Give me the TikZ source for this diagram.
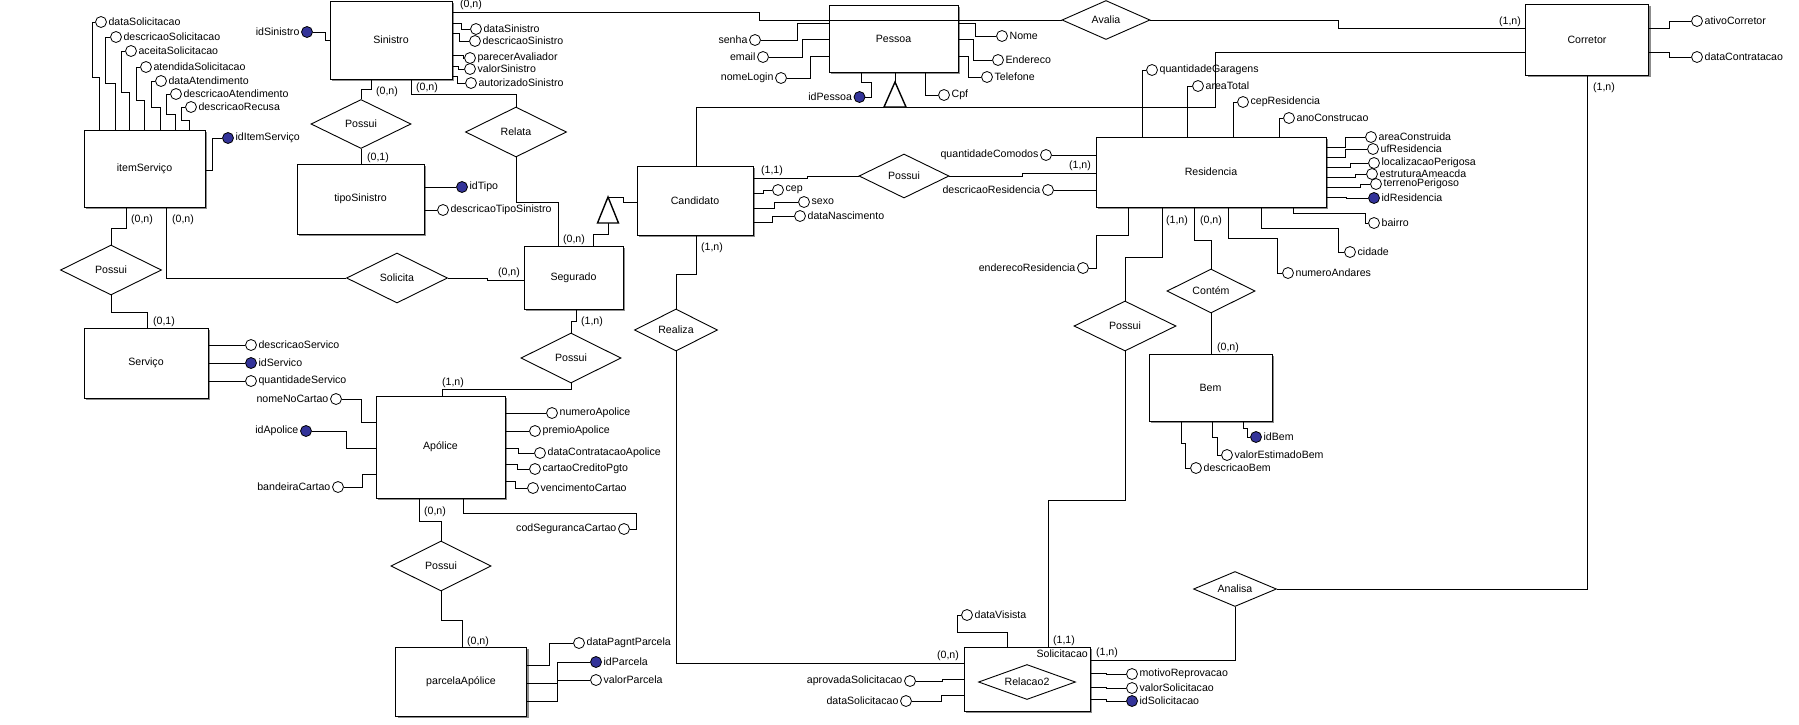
\documentclass[tikz,border=0pt]{standalone}
\usepackage{fontspec}
\setmainfont{Liberation Sans}
\usetikzlibrary{shapes.geometric, shadows}
\definecolor{azulchave}{RGB}{51,51,153}
\tikzstyle{entidade} = [rectangle, draw, line width=0.9pt, fill=white, inner sep=0pt, drop shadow={shadow xshift=2pt, shadow yshift=-2pt, fill=black!45, opacity=1}]
\tikzstyle{relacao} = [diamond, draw, line width=0.9pt, fill=white, inner sep=0pt, aspect=2]
\tikzstyle{atributo} = [circle, draw, line width=0.8pt, fill=white, minimum size=11pt, inner sep=0pt]
\tikzstyle{atributochave} = [atributo, fill=azulchave]
\tikzstyle{card} = [inner sep=0pt]
\tikzstyle{linha} = [draw, line width=0.9pt]
\tikzstyle{heranca} = [draw, fill=white, line width=1.4pt]

\begin{document}
\begin{tikzpicture}[x=1pt, y=-1pt, font=\fontsize{10.6}{12}\selectfont, every label/.style={inner sep=1.5pt}]
    \fill[white] (0,0) rectangle (1799,724);
    \useasboundingbox (0,0) rectangle (1799,724);

    % entidades
    \node[entidade, minimum width=122pt, minimum height=78pt] (sinistro) at (391,40) {Sinistro};
    \node[entidade, minimum width=127pt, minimum height=70pt] (tipoSinistro) at (360.5,199) {tipoSinistro};
    \node[entidade, minimum width=121pt, minimum height=77pt] (itemServico) at (144.5,168.5) {itemServiço};
    \node[entidade, minimum width=124pt, minimum height=70pt] (servico) at (146,363) {Serviço};
    \node[entidade, minimum width=99pt, minimum height=63pt] (segurado) at (573.5,277.5) {Segurado};
    \node[entidade, minimum width=116pt, minimum height=69pt] (candidato) at (695,200.5) {Candidato};
    \node[entidade, minimum width=129pt, minimum height=102pt] (apolice) at (440.5,447) {Apólice};
    \node[entidade, minimum width=131pt, minimum height=69pt] (parcela) at (461,681.5) {parcelaApólice};
    \node[entidade, minimum width=129pt, minimum height=67pt] (pessoa) at (893.5,38.5) {Pessoa};
    \node[entidade, minimum width=123pt, minimum height=71pt] (corretor) at (1587,39.5) {Corretor};
    \node[entidade, minimum width=230pt, minimum height=70pt] (residencia) at (1211,172) {Residencia};
    \node[entidade, minimum width=123pt, minimum height=67pt] (bem) at (1210.5,387.5) {Bem};
    \node[entidade, minimum width=126pt, minimum height=64pt] (solicitacao) at (1027,679) {};
    \node[anchor=north east, inner sep=0pt] (solicitacaoNome) at (1088,650) {Solicitacao};

    % relacionamentos
    \node[relacao, minimum width=100pt, minimum height=49pt] (possuiSin) at (361,124) {Possui};
    \node[relacao, minimum width=101pt, minimum height=50pt] (relata) at (516,132) {Relata};
    \node[relacao, minimum width=101pt, minimum height=50pt] (possuiServ) at (111,270) {Possui};
    \node[relacao, minimum width=101pt, minimum height=50pt] (solicita) at (397,278) {Solicita};
    \node[relacao, minimum width=100pt, minimum height=50pt] (possuiApol) at (571,358) {Possui};
    \node[relacao, minimum width=100pt, minimum height=50pt] (possuiParc) at (441,566) {Possui};
    \node[relacao, minimum width=88pt, minimum height=39pt] (avalia) at (1106,20) {Avalia};
    \node[relacao, minimum width=90pt, minimum height=44pt] (possuiRes) at (904,176) {Possui};
    \node[relacao, minimum width=83pt, minimum height=42pt] (realiza) at (676,330) {Realiza};
    \node[relacao, minimum width=88pt, minimum height=44pt] (contem) at (1211,291) {Contém};
    \node[relacao, minimum width=102pt, minimum height=50pt] (possuiSolic) at (1125,326) {Possui};
    \node[relacao, minimum width=83pt, minimum height=35pt] (analisa) at (1235,589) {Analisa};
    \node[relacao, minimum width=97pt, minimum height=35pt] (relacao2) at (1027,682) {Relacao2};

    % atributos de Sinistro
    \node[atributochave, label=left:idSinistro] (idSinistro) at (307,32) {};
    \node[atributo, label=right:dataSinistro] (dataSinistro) at (476,29) {};
    \node[atributo, label=right:descricaoSinistro] (descricaoSinistro) at (475,41) {};
    \node[atributo, label=right:parecerAvaliador] (parecerAvaliador) at (470,58) {};
    \node[atributo, label=right:valorSinistro] (valorSinistro) at (470,69) {};
    \node[atributo, label=right:autorizadoSinistro] (autorizadoSinistro) at (471,83) {};
    \draw[linha] (idSinistro) -| (325,40) -- (sinistro.west |- 0,40);
    \draw[linha] (sinistro.east |- 0,23) -- ++(9,0) |- (dataSinistro);
    \draw[linha] (sinistro.east |- 0,33) -- ++(7,0) |- (descricaoSinistro);
    \draw[linha] (sinistro.east |- 0,55) -- ++(11,0) |- (parecerAvaliador);
    \draw[linha] (sinistro.east |- 0,66) -- ++(6,0) |- (valorSinistro);
    \draw[linha] (sinistro.east |- 0,76) -- ++(5,0) |- (autorizadoSinistro);

    % atributos de tipoSinistro
    \node[atributochave, label=right:idTipo] (idTipo) at (462,187) {};
    \node[atributo, label=right:descricaoTipoSinistro] (descricaoTipoSinistro) at (443,210) {};
    \draw[linha] (tipoSinistro.east |- idTipo) -- (idTipo);
    \draw[linha] (tipoSinistro.east |- descricaoTipoSinistro) -- (descricaoTipoSinistro);

    % atributos de itemServiço
    \node[atributo, label=right:dataSolicitacao] (dataSolicitacao) at (101,22) {};
    \node[atributo, label=right:descricaoSolicitacao] (descricaoSolicitacao) at (116,37) {};
    \node[atributo, label=right:aceitaSolicitacao] (aceitaSolicitacao) at (131,51) {};
    \node[atributo, label=right:atendidaSolicitacao] (atendidaSolicitacao) at (146,67) {};
    \node[atributo, label=right:dataAtendimento] (dataAtendimento) at (161,81) {};
    \node[atributo, label=right:descricaoAtendimento] (descricaoAtendimento) at (176,94) {};
    \node[atributo, label=right:descricaoRecusa] (descricaoRecusa) at (191,107) {};
    \node[atributochave, label=right:idItemServiço] (idItemServico) at (228,138) {};
    \draw[linha] (itemServico.north -| 99.5,0) |- (92,77) |- (dataSolicitacao);
    \draw[linha] (itemServico.north -| 115,0) |- (105,83) |- (descricaoSolicitacao);
    \draw[linha] (itemServico.north -| 129,0) |- (121,92) |- (aceitaSolicitacao);
    \draw[linha] (itemServico.north -| 144,0) |- (136,100) |- (atendidaSolicitacao);
    \draw[linha] (itemServico.north -| 160,0) |- (151,107) |- (dataAtendimento);
    \draw[linha] (itemServico.north -| 175,0) |- (166,114) |- (descricaoAtendimento);
    \draw[linha] (itemServico.north -| 189,0) |- (181,120) |- (descricaoRecusa);
    \draw[linha] (itemServico.east |- 0,170) -- ++(7,0) |- (idItemServico);

    % atributos de Serviço
    \node[atributo, label=right:descricaoServico] (descricaoServico) at (251,345) {};
    \node[atributochave, label=right:idServico] (idServico) at (251,363) {};
    \node[atributo, label=right:quantidadeServico] (quantidadeServico) at (251,381) {};
    \draw[linha] (servico.east |- descricaoServico) -- (descricaoServico);
    \draw[linha] (servico.east |- idServico) -- (idServico);
    \draw[linha] (servico.east |- quantidadeServico) -- (quantidadeServico);

    % atributos de Pessoa
    \node[atributo, label=left:senha] (senha) at (755,40) {};
    \node[atributo, label=left:email] (email) at (763,57) {};
    \node[atributo, label=left:nomeLogin] (nomeLogin) at (781,78) {};
    \node[atributo, label=right:Nome] (nome) at (1002,36) {};
    \node[atributo, label=right:Endereco] (endereco) at (998,60) {};
    \node[atributo, label=right:Telefone] (telefone) at (987,77) {};
    \node[atributo, label=right:Cpf] (cpf) at (944,95) {};
    \node[atributochave, label=left:idPessoa] (idPessoa) at (859.5,97) {};
    \draw[linha] (pessoa.west |- 0,23) -- ++(-31,0) |- (senha);
    \draw[linha] (pessoa.west |- 0,39) -- ++(-26,0) |- (email);
    \draw[linha] (pessoa.west |- 0,56) -- ++(-18.5,0) |- (nomeLogin);
    \draw[linha] (pessoa.east |- 0,23) -- ++(17,0) |- (nome);
    \draw[linha] (pessoa.east |- 0,39) -- ++(15,0) |- (endereco);
    \draw[linha] (pessoa.east |- 0,56) -- ++(10,0) |- (telefone);
    \draw[linha] (pessoa.south -| 925,0) |- (cpf);
    \draw[linha] (pessoa.south -| 861,0) -- ++(0,10) -| (871,97) -- (idPessoa);

    % atributos de Corretor
    \node[atributo, label=right:ativoCorretor] (ativoCorretor) at (1697,21) {};
    \node[atributo, label=right:dataContratacao] (dataContratacao) at (1697,57) {};
    \draw[linha] (corretor.east |- 0,28) -- ++(20,0) |- (ativoCorretor);
    \draw[linha] (corretor.east |- 0,52) -- ++(20,0) |- (dataContratacao);

    % atributos de Candidato
    \node[atributo, label=right:cep] (cep) at (778,190) {};
    \node[atributo, label=right:sexo] (sexo) at (804,202) {};
    \node[atributo, label=right:dataNascimento] (dataNascimento) at (800,216) {};
    \draw[linha] (candidato.east |- 0,193) -- ++(10,0) |- (cep);
    \draw[linha] (candidato.east |- 0,208) -- ++(21,0) |- (sexo);
    \draw[linha] (candidato.east |- 0,222) -- ++(19,0) |- (dataNascimento);

    % atributos de Apólice
    \node[atributo, label=left:nomeNoCartao] (nomeNoCartao) at (336,399) {};
    \node[atributochave, label=left:idApolice] (idApolice) at (306,431) {};
    \node[atributo, label=left:bandeiraCartao] (bandeiraCartao) at (338,487) {};
    \node[atributo, label=right:numeroApolice] (numeroApolice) at (552,413) {};
    \node[atributo, label=right:premioApolice] (premioApolice) at (535,431) {};
    \node[atributo, label=right:dataContratacaoApolice] (dataContratacaoApolice) at (540,453) {};
    \node[atributo, label=right:cartaoCreditoPgto] (cartaoCreditoPgto) at (535,469) {};
    \node[atributo, label=right:vencimentoCartao] (vencimentoCartao) at (533,488) {};
    \node[atributo, label=left:codSegurancaCartao] (codSegurancaCartao) at (624,529) {};
    \draw[linha] (apolice.west |- 0,422) -- ++(-14,0) |- (nomeNoCartao);
    \draw[linha] (apolice.west |- 0,448) -- ++(-29,0) |- (idApolice);
    \draw[linha] (apolice.west |- 0,474) -- ++(-13,0) |- (bandeiraCartao);
    \draw[linha] (apolice.east |- numeroApolice) -- (numeroApolice);
    \draw[linha] (apolice.east |- premioApolice) -- (premioApolice);
    \draw[linha] (apolice.east |- 0,448) -- ++(13,0) |- (dataContratacaoApolice);
    \draw[linha] (apolice.east |- 0,464) -- ++(12,0) |- (cartaoCreditoPgto);
    \draw[linha] (apolice.east |- 0,481) -- ++(10,0) |- (vencimentoCartao);
    \draw[linha] (apolice.south -| 463,0) -- ++(0,15) -| (636,529) -- (codSegurancaCartao);

    % atributos de parcelaApólice
    \node[atributo, label=right:dataPagntParcela] (dataPagntParcela) at (579,643) {};
    \node[atributochave, label=right:idParcela] (idParcela) at (596,662) {};
    \node[atributo, label=right:valorParcela] (valorParcela) at (596,680) {};
    \draw[linha] (parcela.east |- 0,665) -- ++(22,0) |- (dataPagntParcela);
    \draw[linha] (parcela.east |- 0,683) -- ++(30,0) |- (idParcela);
    \draw[linha] (parcela.east |- 0,701) -- ++(30,0) |- (valorParcela);

    % atributos de Residencia
    \node[atributo, label=right:quantidadeGaragens] (quantidadeGaragens) at (1152,70) {};
    \node[atributo, label=right:areaTotal] (areaTotal) at (1198,86) {};
    \node[atributo, label=right:cepResidencia] (cepResidencia) at (1243,102) {};
    \node[atributo, label=right:anoConstrucao] (anoConstrucao) at (1289,118) {};
    \node[atributo, label=right:areaConstruida] (areaConstruida) at (1371,137) {};
    \node[atributo, label=right:ufResidencia] (ufResidencia) at (1373,149) {};
    \node[atributo, label=right:localizacaoPerigosa] (localizacaoPerigosa) at (1374,163) {};
    \node[atributo, label=right:estruturaAmeacda] (estruturaAmeacda) at (1372,174) {};
    \node[atributo, label=right:terrenoPerigoso] (terrenoPerigoso) at (1376,184) {};
    \node[atributochave, label=right:idResidencia] (idResidencia) at (1374,198) {};
    \node[atributo, label=right:bairro] (bairro) at (1374,223) {};
    \node[atributo, label=right:cidade] (cidade) at (1350,252) {};
    \node[atributo, label=right:numeroAndares] (numeroAndares) at (1288,273) {};
    \node[atributo, label=left:enderecoResidencia] (enderecoResidencia) at (1083,268) {};
    \node[atributo, label=left:quantidadeComodos] (quantidadeComodos) at (1046,155) {};
    \node[atributo, label=left:descricaoResidencia] (descricaoResidencia) at (1048,190) {};
    \draw[linha] (residencia.north -| 1142,0) |- (quantidadeGaragens);
    \draw[linha] (residencia.north -| 1187,0) |- (areaTotal);
    \draw[linha] (residencia.north -| 1233,0) |- (cepResidencia);
    \draw[linha] (residencia.north -| 1279,0) |- (anoConstrucao);
    \draw[linha] (residencia.east |- 0,147) -- ++(19,0) |- (areaConstruida);
    \draw[linha] (residencia.east |- 0,157) -- ++(19,0) |- (ufResidencia);
    \draw[linha] (residencia.east |- 0,167) -- ++(24,0) |- (localizacaoPerigosa);
    \draw[linha] (residencia.east |- 0,177) -- ++(29,0) |- (estruturaAmeacda);
    \draw[linha] (residencia.east |- 0,187) -- ++(34,0) |- (terrenoPerigoso);
    \draw[linha] (residencia.east |- 0,197) -- ++(20,0) |- (idResidencia);
    \draw[linha] (residencia.south -| 1293,0) -- ++(0,6) -| (1365,223) -- (bairro);
    \draw[linha] (residencia.south -| 1261,0) -- ++(0,21) -| (1338,252) -- (cidade);
    \draw[linha] (residencia.south -| 1228,0) -- ++(0,31) -| (1277,273) -- (numeroAndares);
    \draw[linha] (residencia.south -| 1128,0) -- ++(0,28) -| (1096,268) -- (enderecoResidencia);
    \draw[linha] (residencia.west |- quantidadeComodos) -- (quantidadeComodos);
    \draw[linha] (residencia.west |- descricaoResidencia) -- (descricaoResidencia);

    % atributos de Bem
    \node[atributochave, label=right:idBem] (idBem) at (1256,437) {};
    \node[atributo, label=right:valorEstimadoBem] (valorEstimadoBem) at (1227,455) {};
    \node[atributo, label=right:descricaoBem] (descricaoBem) at (1196,468) {};
    \draw[linha] (bem.south -| 1243,0) -- ++(0,7) -| (1247,437) -- (idBem);
    \draw[linha] (bem.south -| 1212,0) -- ++(0,16) -| (1217,455) -- (valorEstimadoBem);
    \draw[linha] (bem.south -| 1181,0) -- ++(0,22) -| (1185,468) -- (descricaoBem);

    % atributos de Solicitacao
    \node[atributo, label=right:dataVisista] (dataVisista) at (967,615) {};
    \node[atributo, label=left:aprovadaSolicitacao] (aprovadaSolicitacao) at (910,681) {};
    \node[atributo, label=left:dataSolicitacao] (dataSolicitacaoSol) at (906,701) {};
    \node[atributo, label=right:motivoReprovacao] (motivoReprovacao) at (1132,674) {};
    \node[atributo, label=right:valorSolicitacao] (valorSolicitacao) at (1132,688) {};
    \node[atributochave, label=right:idSolicitacao] (idSolicitacao) at (1132,701) {};
    \draw[linha] (solicitacao.north -| 1007,0) -- ++(0,-14) -| (957.5,615) -- (dataVisista);
    \draw[linha] (solicitacao.west |- 0,679) -- ++(-21,0) |- (aprovadaSolicitacao);
    \draw[linha] (solicitacao.west |- 0,695) -- ++(-22,0) |- (dataSolicitacaoSol);
    \draw[linha] (solicitacao.east |- 0,673) -- ++(16,0) |- (motivoReprovacao);
    \draw[linha] (solicitacao.east |- 0,687) -- ++(16,0) |- (valorSolicitacao);
    \draw[linha] (solicitacao.east |- 0,699) -- ++(16,0) |- (idSolicitacao);

    % ligacoes
    \draw[linha] (sinistro.east |- 0,12) -| (759,20) -- (avalia);
    \draw[linha] (avalia) -| (1338,28) -- (corretor.west |- 0,28);
    \draw[linha] (sinistro.south -| 371,0) -- ++(0,10) -| (possuiSin.north);
    \draw[linha] (possuiSin.south) -- (tipoSinistro.north -| possuiSin.south);
    \draw[linha] (sinistro.south -| 411,0) -- ++(0,15) -| (relata.north);
    \draw[linha] (relata.south) -- ++(0,45) -| (segurado.north -| 558,0);
    \draw[linha] (itemServico.south -| 126,0) -- ++(0,21) -| (possuiServ.north);
    \draw[linha] (possuiServ.south) -- ++(0,17) -| (servico.north -| 147,0);
    \draw[linha] (itemServico.south -| 166,0) |- (solicita);
    \draw[linha] (solicita) -| (487,280) -- (segurado.west |- 0,280);
    \draw[linha] (segurado.south -| 576,0) -- ++(0,12) -| (possuiApol.north);
    \draw[linha] (possuiApol.south) -- ++(0,6) -| (apolice.north -| 442,0);
    \draw[linha] (apolice.south -| 419,0) -- ++(0,23) -| (possuiParc.north);
    \draw[linha] (possuiParc.south) -- ++(0,29) -| (parcela.north -| 462.5,0);
    \draw[linha] (candidato.east |- 0,178) -- ++(54,0) |- (possuiRes);
    \draw[linha] (possuiRes) -| (1022,173) -- (residencia.west |- 0,173);
    \draw[linha] (candidato.south -| 696,0) -- ++(0,39) -| (realiza.north);
    \draw[linha] (realiza.south) |- (solicitacao.west |- 0,663);
    \draw[linha] (residencia.south -| 1162,0) -- ++(0,50) -| (possuiSolic.north);
    \draw[linha] (possuiSolic.south) -- ++(0,149) -| (solicitacao.north -| 1048,0);
    \draw[linha] (residencia.south -| 1194,0) -- ++(0,33) -| (contem.north);
    \draw[linha] (contem.south) -- (bem.north -| contem.south);
    \draw[linha] (solicitacao.east |- 0,660) -| (analisa.south);
    \draw[linha] (analisa) -| (corretor.south);

    % especializacoes
    \coordinate (herancaPes) at (895,82);
    \coordinate (herancaCand) at (608,197);
    \draw[linha] (candidato.north -| 696,0) |- (1215,107) |- (corretor.west |- 0,52);
    \draw[linha] (pessoa.south -| herancaPes) -- (herancaPes);
    \draw[heranca] (herancaPes) -- ++(-11,25) -- ++(22,0) -- cycle;
    \draw[linha] (segurado.north -| 593,0) -- ++(0,-11) -| (608,223);
    \draw[linha] (herancaCand) -| (623,202) -- (candidato.west |- 0,202);
    \draw[heranca] (herancaCand) -- ++(-10.5,26) -- ++(21,0) -- cycle;

    % cardinalidades
    \node[card] (cSinAva) at (471,5) {(0,n)};
    \node[card] (cAvaCor) at (1510,22) {(1,n)};
    \node[card] (cSinPos) at (387,92) {(0,n)};
    \node[card] (cPosTip) at (378,158) {(0,1)};
    \node[card] (cSinRel) at (427,88) {(0,n)};
    \node[card] (cItemPos) at (142,220) {(0,n)};
    \node[card] (cItemSol) at (183,220) {(0,n)};
    \node[card] (cPosServ) at (164,322) {(0,1)};
    \node[card] (cSolSeg) at (509,273) {(0,n)};
    \node[card] (cRelSeg) at (574,240) {(0,n)};
    \node[card] (cSegPos) at (592,322) {(1,n)};
    \node[card] (cPosApo) at (453,383) {(1,n)};
    \node[card] (cApoPos) at (435,512) {(0,n)};
    \node[card] (cPosParc) at (478,642) {(0,n)};
    \node[card] (cCandPos) at (772,171) {(1,1)};
    \node[card] (cPosRes) at (1080,166) {(1,n)};
    \node[card] (cCandRea) at (712,248) {(1,n)};
    \node[card] (cReaSol) at (948,656) {(0,n)};
    \node[card] (cPosSol) at (1064,641) {(1,1)};
    \node[card] (cSolAna) at (1107,653) {(1,n)};
    \node[card] (cCorAna) at (1604,88) {(1,n)};
    \node[card] (cResPos) at (1177,221) {(1,n)};
    \node[card] (cResCon) at (1211,221) {(0,n)};
    \node[card] (cConBem) at (1228,348) {(0,n)};
\end{tikzpicture}
\end{document}
